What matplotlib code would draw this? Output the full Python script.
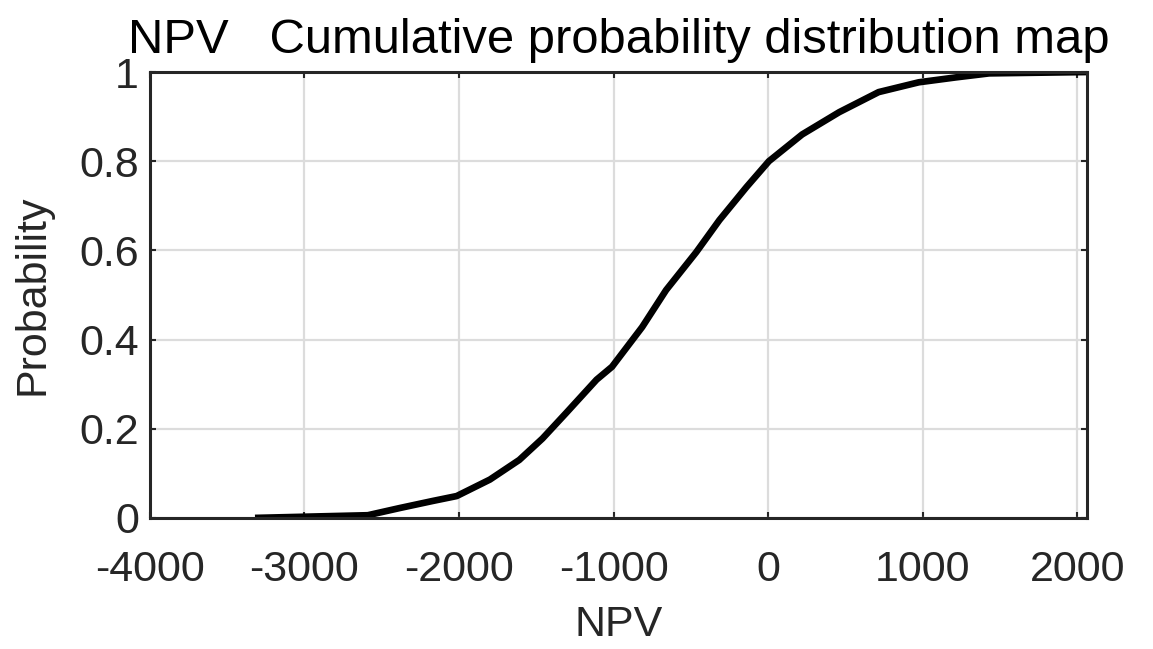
import matplotlib
matplotlib.use("Agg")
import matplotlib.pyplot as plt

# Cumulative probability of NPV
npv = [-3320, -2590, -2385, -2170, -2015, -1800, -1610, -1460, -1305, -1110,
       -1010, -815, -660, -465, -315, -140, 5, 220, 460, 715, 975, 1215, 1430, 2065]
prob = [0.0, 0.006, 0.022, 0.038, 0.049, 0.086, 0.130, 0.178, 0.236, 0.310,
        0.339, 0.428, 0.511, 0.596, 0.668, 0.742, 0.800, 0.860, 0.910, 0.955,
        0.977, 0.988, 0.997, 1.0]

x_ticks = [-4000, -3000, -2000, -1000, 0, 1000, 2000]
y_ticks = [0, 0.2, 0.4, 0.6, 0.8, 1]
y_ticklabels = ["0", "0.2", "0.4", "0.6", "0.8", "1"]

plt.rcParams["font.family"] = ["Liberation Sans", "DejaVu Sans"]

fig = plt.figure(figsize=(11.53, 6.49), dpi=100)
ax = fig.add_axes([0.130, 0.202, 0.813, 0.687])

ax.plot(npv, prob, color="black", linewidth=4.8, solid_capstyle="butt")

ax.set_xlim(-4000, 2065)
ax.set_ylim(0, 1)
ax.set_xticks(x_ticks)
ax.set_xticklabels([str(v) for v in x_ticks])
ax.set_yticks(y_ticks)
ax.set_yticklabels(y_ticklabels)

ax.grid(True, color="#dcdcdc", linewidth=1.6)
ax.set_axisbelow(True)
for s in ax.spines.values():
    s.set_color("#262626")
    s.set_linewidth(2.2)
ax.tick_params(direction="in", length=4, width=1.5, color="#262626",
               top=True, right=True, labelsize=31, labelcolor="#262626")
ax.tick_params(axis="x", pad=23)
ax.tick_params(axis="y", pad=8)

ax.set_xlabel("NPV", fontsize=31, color="#262626", labelpad=11)
ax.set_ylabel("Probability", fontsize=31, color="#262626", labelpad=19)
ax.set_title("NPV   Cumulative probability distribution map", fontsize=35.3,
             color="black", pad=14)

fig.savefig("out.png", dpi=100)
